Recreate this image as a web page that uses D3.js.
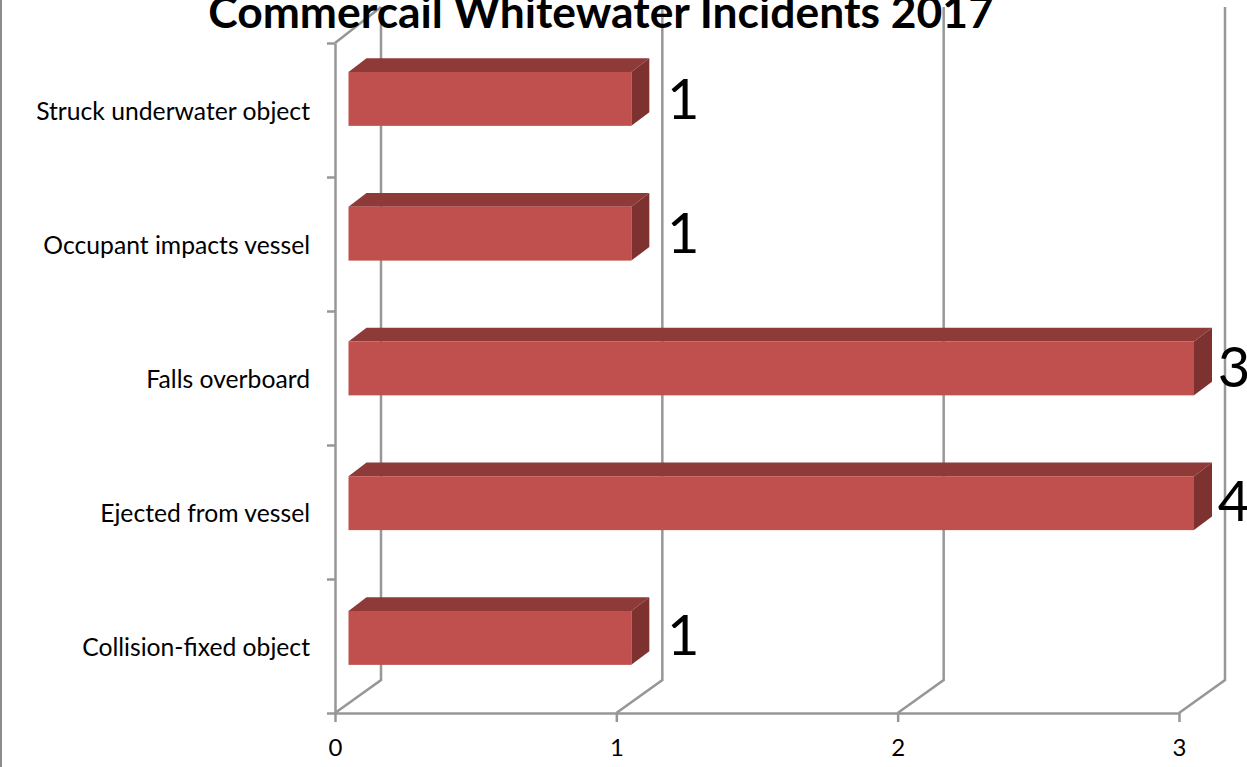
<!DOCTYPE html>
<html><head><meta charset="utf-8">
<script src="https://cdn.jsdelivr.net/npm/d3@7/dist/d3.min.js"></script>
<style>
html,body{margin:0;padding:0;background:#fff;overflow:hidden}
svg{display:block}
text{font-family:Lato,"Open Sans",sans-serif;fill:#000}
</style></head><body>
<svg id="c" width="1247" height="767"></svg>
<script>
const titleText = "Commercail Whitewater Incidents 2017";
const categories = ["Collision-fixed object","Ejected from vessel","Falls overboard","Occupant impacts vessel","Struck underwater object"];
const values = [1,4,3,1,1];
const xTicks = [0,1,2,3];

const W=1247,H=767;
const svg=d3.select("#c");
const x=d3.scaleLinear().domain([0,3]).range([335,1179]).clamp(true);
const y=d3.scaleBand().domain(categories).range([713,43]);
const barY=d3.scaleBand().domain(categories).range([716.75,43]);
const edge=d3.scaleLinear().domain([0,categories.length]).range([713,43]);
const wallDx=46, wallDy=-33, topExtra=-3, grid="#979797";
const barDx=18, barDy=-13.7, barInset=15;

svg.append("line").attr("x1",1).attr("x2",1).attr("y1",0).attr("y2",H).attr("stroke","#8c8c8c").attr("stroke-width",2);

const walls=svg.append("g").attr("fill","none").attr("stroke",grid).attr("stroke-width",2.5);
xTicks.forEach(t=>{
  walls.append("path").attr("d",d3.line()([[x(t),713],[x(t)+wallDx,713+wallDy],[x(t)+wallDx,43+wallDy+topExtra]]));
});
walls.append("path").attr("d",d3.line()([[x(0),43],[x(0)+wallDx,43+wallDy+topExtra]]));

svg.append("text").attr("x",601).attr("y",27.5).attr("text-anchor","middle")
  .attr("font-size",44.4).attr("font-weight",700).text(titleText);

const styleAxis=g=>{g.selectAll(".domain,.tick line").attr("stroke",grid).attr("stroke-width",2.5);};
svg.append("g").attr("transform","translate(0,713)")
  .call(d3.axisBottom(x).tickValues(xTicks).tickFormat(d3.format("d")).tickSize(9).tickPadding(17).tickSizeOuter(0))
  .call(styleAxis).call(g=>g.selectAll("text").attr("font-size",24));
svg.append("g").attr("transform","translate(335,0)")
  .call(d3.axisLeft(edge).ticks(categories.length).tickFormat("").tickSize(8).tickSizeOuter(0))
  .call(styleAxis);
svg.append("g").attr("transform","translate(335,2)")
  .call(d3.axisLeft(y).tickSize(0).tickPadding(25))
  .call(g=>g.select(".domain").remove())
  .call(g=>g.selectAll("text").attr("font-size",24.7));

const rows=categories.map((c,i)=>({c,v:values[i]}));
const bh=barY.bandwidth()*0.4;
const bars=svg.append("g").selectAll("g").data(rows).join("g");
const x0=x(0)+13.5;
const frontTop=d=>barY(d.c)+barY.bandwidth()*0.215;
const xEnd=d=>x(d.v)+barInset;
bars.append("path").attr("fill","#8E3A38").attr("d",d=>d3.line()([[x0,frontTop(d)],[x0+barDx,frontTop(d)+barDy],[xEnd(d)+barDx,frontTop(d)+barDy],[xEnd(d),frontTop(d)]]));
bars.append("path").attr("fill","#7D3230").attr("d",d=>d3.line()([[xEnd(d),frontTop(d)],[xEnd(d)+barDx,frontTop(d)+barDy],[xEnd(d)+barDx,frontTop(d)+bh+barDy],[xEnd(d),frontTop(d)+bh]]));
bars.append("rect").attr("fill","#C0504D").attr("x",x0).attr("y",frontTop).attr("width",d=>xEnd(d)-x0).attr("height",bh);
bars.append("text").attr("text-anchor","middle")
  .attr("x",d=>Math.min(xEnd(d)+52,W-13))
  .attr("y",d=>y(d.c)+y.bandwidth()/2+9)
  .attr("font-size",56).text(d=>d.v);
</script>
</body></html>
